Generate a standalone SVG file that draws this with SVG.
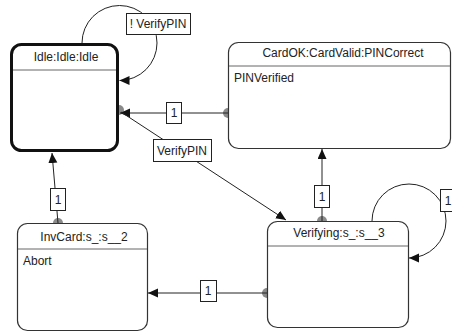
<svg xmlns="http://www.w3.org/2000/svg" width="452" height="333" viewBox="0 0 452 333">
<style>
text{font-family:"Liberation Sans",Arial,sans-serif;font-size:12px;fill:#222}
.c{text-anchor:middle}
.edge{fill:none;stroke:#222;stroke-width:1}
.dot{fill:#8a8a8a}
.lbl{fill:#fff;stroke:#222;stroke-width:1}
.node{fill:#fff;stroke:#333;stroke-width:1.2}
.sep{stroke:#666;stroke-width:1}
</style>
<defs>
<marker id="ah" markerUnits="userSpaceOnUse" markerWidth="11" markerHeight="10" refX="10" refY="4.5" orient="auto">
<path d="M0,0 L10,4.5 L0,9 z" fill="#111"/>
</marker>
</defs>
<g id="connectors">
<circle class="dot" cx="119" cy="110" r="5"/>
<circle class="dot" cx="228" cy="113" r="5"/>
<circle class="dot" cx="322" cy="221" r="5"/>
<circle class="dot" cx="58" cy="223" r="5"/>
<circle class="dot" cx="267" cy="293" r="5"/>
<path class="edge" d="M82,43 A37.5,37.5 0 1 1 119.5,80.5" marker-end="url(#ah)"/>
<path class="edge" d="M228,113 L120,113" marker-end="url(#ah)"/>
<path class="edge" d="M121,112 L286,220" marker-end="url(#ah)"/>
<path class="edge" d="M322,221 L322,149" marker-end="url(#ah)"/>
<path class="edge" d="M58,223 L52,153" marker-end="url(#ah)"/>
<path class="edge" d="M267,293 L148,293" marker-end="url(#ah)"/>
<path class="edge" d="M372,221 A37,37 0 1 1 409,258" marker-end="url(#ah)"/>
<rect class="lbl" x="126.5" y="13.5" width="64" height="21"/>
<text class="c" x="158" y="28">! VerifyPIN</text>
<rect class="lbl" x="166.5" y="102.5" width="15" height="21"/>
<text class="c" x="174" y="117">1</text>
<rect class="lbl" x="153.5" y="139.5" width="58" height="22"/>
<text class="c" x="182" y="155">VerifyPIN</text>
<rect class="lbl" x="314.5" y="185.5" width="15" height="22"/>
<text class="c" x="322" y="201">1</text>
<rect class="lbl" x="50.5" y="188.5" width="15" height="22"/>
<text class="c" x="58" y="204">1</text>
<rect class="lbl" x="200.5" y="280.5" width="16" height="21"/>
<text class="c" x="208" y="295">1</text>
<rect class="lbl" x="440.5" y="189.5" width="16" height="22"/>
<text class="c" x="448" y="205">1</text>
</g>
<g id="Idle">
<rect x="11.5" y="44.5" width="106" height="106" rx="10" fill="#fff" stroke="#111" stroke-width="3"/>
<line class="sep" x1="13" y1="70" x2="116" y2="70"/>
<text class="c" x="66" y="61">Idle:Idle:Idle</text>
</g>
<g id="CardOK">
<rect class="node" x="228.5" y="42.5" width="222" height="106" rx="10"/>
<line class="sep" x1="229" y1="66" x2="450" y2="66"/>
<text class="c" x="343" y="57">CardOK:CardValid:PINCorrect</text>
<text x="234" y="82">PINVerified</text>
</g>
<g id="InvCard">
<rect class="node" x="17.5" y="223.5" width="130" height="107" rx="10"/>
<line class="sep" x1="18" y1="249" x2="147" y2="249"/>
<text class="c" x="84" y="241">InvCard:s_:s__2</text>
<text x="23" y="265">Abort</text>
</g>
<g id="Verifying">
<rect class="node" x="267.5" y="221.5" width="141" height="106" rx="10"/>
<line class="sep" x1="268" y1="246" x2="408" y2="246"/>
<text class="c" x="339" y="237">Verifying:s_:s__3</text>
</g>
</svg>
